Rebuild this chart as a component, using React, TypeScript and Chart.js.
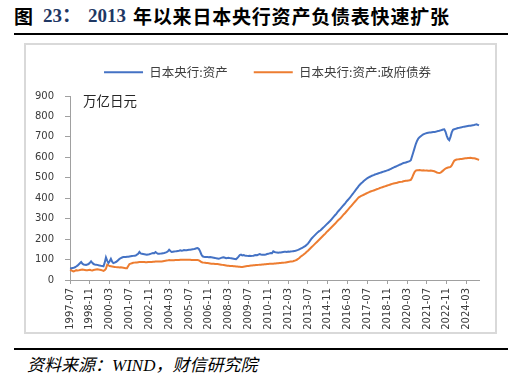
import React, { useEffect, useRef } from "react";
import { Chart, registerables } from "chart.js";

Chart.register(...registerables);

// ---- data (monthly, 1997-07 .. 2025-01), unit: 万亿日元 ----
const START_YEAR = 1997;
const START_MONTH = 7;

const totalAssets: number[] = [
  58, 57, 59, 60, 62, 66, // 1997 H2
  70, 76, 82, 88, 80, 76, 75, 74, 76, 78, 84, 91, // 1998
  84, 78, 76, 75, 74, 72, 71, 69, 68, 67, 85, 111, // 1999
  95, 83, 92, 104, 90, 83, 85, 88, 92, 98, 104, 107, // 2000
  110, 112, 112, 113, 114, 114, 115, 116, 117, 118, 119, 120, // 2001
  124, 128, 137, 130, 128, 127, 126, 125, 124, 125, 126, 128, // 2002
  130, 132, 131, 137, 132, 128, 128, 129, 130, 131, 132, 134, // 2003
  136, 140, 148, 142, 137, 138, 139, 140, 141, 142, 143, 145, // 2004
  143, 144, 146, 145, 146, 147, 148, 148, 149, 150, 151, 153, // 2005
  155, 156, 152, 140, 125, 116, 114, 113, 112, 112, 111, 112, // 2006
  111, 110, 109, 108, 106, 105, 104, 106, 108, 110, 111, 109, // 2007
  107, 108, 109, 107, 106, 105, 104, 103, 102, 108, 114, 122, // 2008
  124, 120, 122, 120, 119, 118, 117, 118, 117, 118, 119, 121, // 2009
  122, 121, 124, 127, 125, 124, 123, 124, 125, 127, 128, 130, // 2010
  132, 131, 140, 137, 135, 134, 133, 134, 135, 136, 137, 138, // 2011
  138, 137, 139, 138, 139, 140, 141, 142, 143, 145, 147, 150, // 2012
  153, 156, 159, 163, 167, 172, 178, 186, 195, 203, 210, 216, // 2013
  222, 228, 234, 239, 242, 248, 254, 260, 266, 272, 278, 284, // 2014
  290, 297, 304, 311, 318, 325, 333, 340, 347, 354, 361, 368, // 2015
  375, 383, 390, 397, 404, 412, 420, 428, 436, 444, 452, 460, // 2016
  467, 473, 478, 484, 489, 494, 498, 502, 505, 508, 511, 513, // 2017
  516, 518, 520, 522, 524, 526, 528, 530, 532, 534, 536, 538, // 2018
  541, 544, 547, 550, 553, 555, 558, 561, 564, 566, 569, 572, // 2019
  573, 575, 577, 579, 581, 586, 605, 625, 645, 665, 680, 692, // 2020
  698, 703, 708, 712, 715, 717, 719, 720, 721, 722, 723, 724, // 2021
  724, 725, 727, 729, 730, 732, 734, 736, 737, 725, 705, 690, // 2022
  684, 700, 722, 735, 737, 739, 741, 743, 744, 746, 747, 749, // 2023
  750, 751, 752, 753, 754, 755, 756, 757, 758, 760, 762, 759, // 2024
  756, // 2025
];

const govBonds: number[] = [
  50, 48, 44, 42, 45, 48, // 1997 H2
  46, 47, 49, 50, 51, 50, 49, 48, 48, 49, 50, 48, // 1998
  47, 49, 50, 51, 52, 51, 50, 49, 47, 45, 48, 55, // 1999
  75, 72, 68, 67, 66, 65, 64, 63, 62, 62, 61, 62, // 2000
  61, 60, 59, 58, 58, 68, 78, 80, 82, 84, 85, 86, // 2001
  86, 87, 88, 88, 88, 88, 88, 87, 87, 88, 88, 88, // 2002
  88, 89, 89, 90, 90, 90, 90, 91, 91, 92, 93, 94, // 2003
  95, 96, 98, 97, 97, 97, 97, 98, 98, 98, 98, 99, // 2004
  99, 99, 99, 99, 99, 99, 99, 99, 98, 98, 98, 98, // 2005
  98, 98, 96, 92, 88, 86, 85, 84, 83, 83, 82, 81, // 2006
  80, 80, 79, 78, 78, 78, 77, 76, 75, 74, 73, 72, // 2007
  71, 70, 70, 69, 68, 68, 67, 67, 66, 66, 65, 65, // 2008
  64, 64, 65, 66, 67, 68, 69, 70, 71, 71, 72, 72, // 2009
  73, 73, 74, 75, 75, 76, 76, 77, 77, 78, 78, 79, // 2010
  79, 80, 80, 81, 81, 82, 82, 83, 83, 84, 84, 85, // 2011
  86, 87, 88, 89, 90, 91, 92, 94, 96, 99, 103, 108, // 2012
  114, 118, 122, 127, 132, 138, 143, 149, 155, 161, 167, 173, // 2013
  179, 185, 191, 197, 203, 209, 215, 221, 227, 234, 240, 246, // 2014
  252, 258, 264, 270, 276, 283, 290, 296, 301, 308, 315, 322, // 2015
  328, 335, 342, 349, 356, 363, 370, 377, 384, 391, 398, 404, // 2016
  408, 411, 414, 417, 420, 423, 426, 429, 432, 434, 436, 438, // 2017
  440, 443, 445, 447, 450, 452, 454, 456, 458, 460, 462, 464, // 2018
  466, 468, 470, 472, 473, 474, 476, 478, 479, 480, 481, 483, // 2019
  484, 485, 486, 487, 488, 490, 500, 515, 528, 535, 537, 537, // 2020
  538, 537, 536, 537, 536, 535, 535, 534, 534, 535, 534, 533, // 2021
  532, 529, 526, 524, 523, 525, 530, 535, 540, 545, 548, 550, // 2022
  551, 553, 560, 572, 583, 587, 589, 590, 591, 592, 592, 593, // 2023
  594, 595, 596, 597, 597, 598, 597, 596, 595, 594, 592, 590, // 2024
  587, // 2025
];

const seriesNames = ["日本央行:资产", "日本央行:资产:政府债券"];
const seriesColors = ["#4472C4", "#ED7D31"];
const TICK_EVERY = 16; // one x label every 16 months
const Y_MAX = 900;
const Y_STEP = 100;

const monthLabels: string[] = totalAssets.map((_, i) => {
  const t = START_MONTH - 1 + i;
  const y = START_YEAR + Math.floor(t / 12);
  const m = (t % 12) + 1;
  return `${y}-${String(m).padStart(2, "0")}`;
});

const CJK = "'Noto Sans CJK SC', 'Noto Sans', sans-serif";
const TICK_FONT = "'DejaVu Sans', sans-serif";
const AXIS_COLOR = "#A0A0A0";
const TEXT_COLOR = "#3a3a3a";
const LEGEND_SHIFT = 16;

// legend: keep its height fixed and nudge it to be centred over the plot
const legendFitPlugin = {
  id: "legendFit",
  afterInit(chart: any) {
    const lg = chart.legend;
    if (!lg) return;
    const origFit = lg.fit;
    lg.fit = function () {
      origFit.call(this);
      this.height = 56;
    };
    const origDraw = lg.draw;
    lg.draw = function (...args: any[]) {
      this.left += LEGEND_SHIFT;
      this.right += LEGEND_SHIFT;
      origDraw.apply(this, args);
      this.left -= LEGEND_SHIFT;
      this.right -= LEGEND_SHIFT;
    };
  },
};

export default function App() {
  const ref = useRef<HTMLCanvasElement | null>(null);

  useEffect(() => {
    if (!ref.current) return;
    const chart = new Chart(ref.current, {
      type: "line",
      data: {
        labels: monthLabels,
        datasets: [
          {
            label: seriesNames[0],
            data: totalAssets,
            borderColor: seriesColors[0],
            backgroundColor: seriesColors[0],
            borderWidth: 2,
            pointRadius: 0,
            tension: 0,
            fill: false,
          },
          {
            label: seriesNames[1],
            data: govBonds,
            borderColor: seriesColors[1],
            backgroundColor: seriesColors[1],
            borderWidth: 2,
            pointRadius: 0,
            tension: 0,
            fill: false,
          },
        ],
      },
      options: {
        animation: false,
        responsive: false,
        maintainAspectRatio: false,
        devicePixelRatio: 1,
        layout: { padding: { left: 0, right: 18, top: 0, bottom: 0 } },
        plugins: {
          legend: {
            position: "top",
            align: "center",
            labels: {
              boxWidth: 39,
              boxHeight: 2,
              padding: 26,
              color: "#404040",
              font: { family: CJK, size: 12.5 },
              generateLabels: (c: any) =>
                (Chart.defaults.plugins.legend.labels as any)
                  .generateLabels(c)
                  .map((it: any) => ({ ...it, lineWidth: 0 })),
            },
          },
          tooltip: { enabled: false },
        },
        scales: {
          x: {
            type: "category",
            offset: false,
            grid: {
              drawOnChartArea: false,
              drawTicks: true,
              tickLength: 4,
              color: AXIS_COLOR,
              offset: false,
            },
            border: { display: true, color: AXIS_COLOR, width: 1 },
            ticks: {
              autoSkip: false,
              minRotation: 90,
              maxRotation: 90,
              padding: 4,
              color: TEXT_COLOR,
              font: { family: TICK_FONT, size: 10 },
              callback: (_v: any, idx: number) =>
                idx % TICK_EVERY === 0 ? monthLabels[idx] : null,
            },
            afterFit: (s: any) => {
              s.height = 54;
            },
          },
          y: {
            min: 0,
            max: Y_MAX,
            ticks: {
              stepSize: Y_STEP,
              padding: 11,
              color: TEXT_COLOR,
              font: { family: TICK_FONT, size: 10 },
            },
            grid: {
              drawOnChartArea: false,
              drawTicks: true,
              tickLength: 5,
              color: AXIS_COLOR,
            },
            border: { display: true, color: AXIS_COLOR, width: 1 },
            afterFit: (s: any) => {
              s.width = 46;
            },
          },
        },
      } as any,
      plugins: [legendFitPlugin as any],
    });
    return () => chart.destroy();
  }, []);

  const titleBase: React.CSSProperties = {
    position: "absolute",
    top: 6,
    lineHeight: "20px",
    fontSize: 19,
    fontWeight: 700,
    whiteSpace: "nowrap",
  };

  return (
    <div
      style={{
        position: "fixed",
        left: 0,
        top: 0,
        width: 528,
        height: 381,
        background: "#ffffff",
        overflow: "hidden",
      }}
    >
      <span style={{ ...titleBase, left: 14, fontFamily: CJK, color: "#000" }}>图</span>
      <span
        style={{
          ...titleBase,
          left: 43,
          fontFamily: "'Liberation Serif', " + CJK,
          color: "#1F3864",
        }}
      >
        23：
      </span>
      <span
        style={{
          ...titleBase,
          left: 88,
          fontFamily: "'Liberation Serif', serif",
          color: "#1F3864",
        }}
      >
        2013
      </span>
      <span
        style={{
          ...titleBase,
          left: 133,
          fontFamily: CJK,
          color: "#000",
          letterSpacing: "0.8px",
        }}
      >
        年以来日本央行资产负债表快速扩张
      </span>

      <div style={{ position: "absolute", left: 14, top: 33, width: 494, height: 2, background: "#000" }} />

      <div
        style={{
          position: "absolute",
          left: 24,
          top: 43,
          width: 473,
          height: 291,
          border: "2px solid #D9D9D9",
          boxSizing: "border-box",
        }}
      />

      <canvas
        ref={ref}
        width={473}
        height={294}
        style={{ position: "absolute", left: 24, top: 40, width: 473, height: 294 }}
      />

      <span
        style={{
          position: "absolute",
          left: 83,
          top: 90,
          lineHeight: "20px",
          fontSize: 13.5,
          fontFamily: CJK,
          color: "#262626",
          whiteSpace: "nowrap",
        }}
      >
        万亿日元
      </span>

      <div style={{ position: "absolute", left: 14, top: 348, width: 494, height: 2, background: "#000" }} />

      <span
        style={{
          position: "absolute",
          left: 27,
          top: 356,
          lineHeight: "20px",
          fontSize: 17,
          fontStyle: "italic",
          fontFamily: "'Liberation Serif', " + CJK,
          color: "#000",
          whiteSpace: "nowrap",
        }}
      >
        资料来源：WIND，财信研究院
      </span>
    </div>
  );
}
